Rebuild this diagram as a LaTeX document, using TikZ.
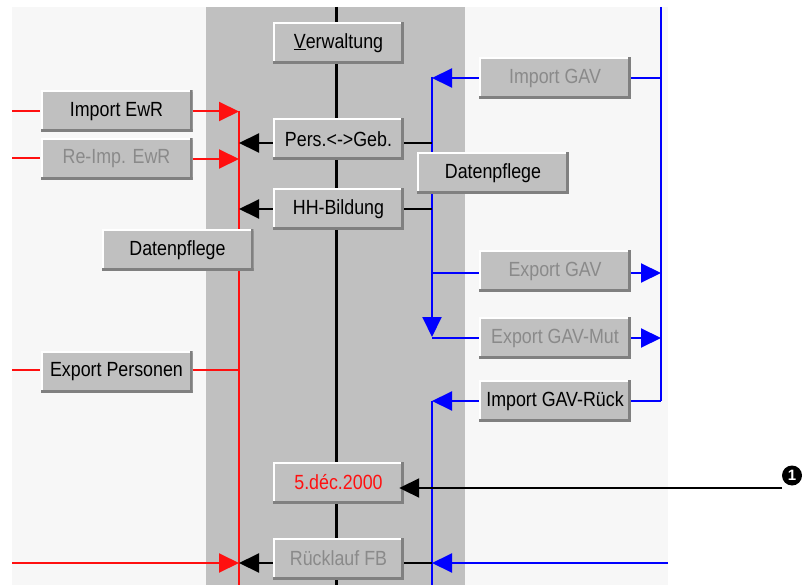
\documentclass[tikz,border=0pt]{standalone}
\usepackage{fontspec}
\setmainfont{Liberation Sans}
\newfontfamily\btnfamily[FakeStretch=0.87]{Liberation Sans}
\usetikzlibrary{arrows.meta}
\definecolor{bgpale}{HTML}{F7F7F7}
\definecolor{btngray}{HTML}{C0C0C0}
\definecolor{shadowgray}{HTML}{808080}
\definecolor{dimtext}{HTML}{8A8A8A}
\definecolor{lred}{HTML}{FF1010}
\definecolor{lblue}{HTML}{0000FF}
\newcommand\btnfont{\btnfamily\fontsize{20.5}{22}\selectfont}
\tikzset{
  >={Triangle[length=20pt,width=19pt]},
  btn/.style={fill=btngray, minimum width=152pt, minimum height=42pt, inner sep=0pt, font=\btnfont,
    path picture={
      \fill[white] (path picture bounding box.north west) rectangle ([yshift=-2pt]path picture bounding box.north east);
      \fill[white] (path picture bounding box.north west) rectangle ([xshift=2pt]path picture bounding box.south west);
      \fill[shadowgray] (path picture bounding box.south west) rectangle ([yshift=3pt]path picture bounding box.south east);
      \fill[shadowgray] ([xshift=-3pt]path picture bounding box.north east) rectangle (path picture bounding box.south east);
    }},
  cbtn/.style={btn, minimum width=131pt},
  dim/.style={text=dimtext},
  redln/.style={draw=lred, line width=2pt},
  blueln/.style={draw=lblue, line width=2pt},
  blkln/.style={draw=black, line width=2pt},
}
\begin{document}
\begin{tikzpicture}[x=1pt,y=-1pt]
\useasboundingbox (0,0) rectangle (802,585);
\fill[white] (0,0) rectangle (802,585);
\fill[bgpale] (12,7) rectangle (668,585);
\fill[btngray] (206,7) rectangle (465,585);

% bus coordinates
\coordinate (ctop) at (336,7);
\coordinate (cbot) at (336,585);
\coordinate (rtop) at (239,111);
\coordinate (rbot) at (239,585);
\coordinate (b1top) at (432,77);
\coordinate (b1mid) at (432,337);
\coordinate (b2top) at (432,401);
\coordinate (b2bot) at (432,585);
\coordinate (rbtop) at (661,7);
\coordinate (rbbot) at (661,401);
\coordinate (l1) at (12,111);
\coordinate (l2) at (12,158);
\coordinate (l3) at (12,370);
\coordinate (l4) at (12,563);
\coordinate (br) at (668,563);
\coordinate (c1) at (782,488);

% vertical lines
\draw[black, line width=3pt] (ctop) -- (cbot);
\draw[redln] (rtop) -- (rbot);
\draw[blueln,->] (b1top) -- (b1mid);
\draw[blueln] (b2top) -- (b2bot);
\draw[blueln] (rbtop) -- (rbbot);

% central buttons
\node[cbtn] (ver) at (338.5,43) {\underline{V}erwaltung};
\node[cbtn] (pg) at (338.5,139) {Pers.<->Geb.};
\node[cbtn] (hh) at (338.5,209) {HH-Bildung};
\node[cbtn, text=lred] (dec) at (338.5,482.5) {5.déc.2000};
\node[cbtn, dim] (rl) at (338.5,558.5) {Rücklauf FB};

% left buttons
\node[btn] (ie) at (116.5,111.5) {Import EwR};
\node[btn, dim] (re) at (116.5,159) {Re-Imp. EwR};
\node[btn] (dpl) at (177.5,250) {Datenpflege};
\node[btn] (ep) at (116.5,372) {Export Personen};

% right buttons
\node[btn, dim] (ig) at (555,78) {Import GAV};
\node[btn] (dpr) at (493,173.5) {Datenpflege};
\node[btn, dim] (eg) at (555,271) {Export GAV};
\node[btn, dim] (egm) at (555,338) {Export GAV-Mut};
\node[btn] (igr) at (555,401) {Import GAV-Rück};

% red connectors
\draw[redln] (l1) -- (l1 -| ie.west);
\draw[redln,->,lred] (ie.east) -- (ie.east -| rtop);
\draw[redln] (l2) -- (l2 -| re.west);
\draw[redln,->,lred] (re.east) -- (re.east -| rtop);
\draw[redln] (l3) -- (l3 -| ep.west);
\draw[redln] (l3 -| ep.east) -- (l3 -| rtop);
\draw[redln,->,lred] (l4) -- (l4 -| rtop);

% black connectors
\draw[blkln,->] ([yshift=-4pt]pg.west) -- ([yshift=-4pt]pg.west -| rtop);
\draw[blkln] ([yshift=-4pt]pg.east) -- ([yshift=-4pt]pg.east -| b1top);
\draw[blkln,->] (hh.west) -- (hh.west -| rtop);
\draw[blkln] (hh.east) -- (hh.east -| b1top);
\draw[blkln,->] ([yshift=-4.5pt]rl.west) -- ([yshift=-4.5pt]rl.west -| rtop);
\draw[blkln] ([yshift=-4.5pt]rl.east) -- ([yshift=-4.5pt]rl.east -| b2top);
\draw[blueln,->,lblue] (br) -- (br -| b2top);

% blue connectors
\draw[blueln,->,lblue] (ig.west) -- (ig.west -| b1top);
\draw[blueln] (ig.east) -- (ig.east -| rbtop);
\draw[blueln] ([yshift=-2pt]eg.west) -- ([yshift=-2pt]eg.west -| b1top);
\draw[blueln,->,lblue] ([yshift=-2pt]eg.east) -- ([yshift=-2pt]eg.east -| rbtop);
\draw[blueln] (egm.west) -- (egm.west -| b1mid);
\draw[blueln,->,lblue] (egm.east) -- (egm.east -| rbtop);
\draw[blueln,->,lblue] (igr.west) -- (igr.west -| b2top);
\draw[blueln] (igr.east) -- (igr.east -| rbbot);

% callout
\node[circle, fill=black, text=white, minimum size=20pt, inner sep=0pt,
      font=\bfseries\fontsize{15}{15}\selectfont] (m1) at (792,475.5) {1};
\draw[blkln,->] (c1) -- ([xshift=-5pt,yshift=-5.5pt]dec.east);
\end{tikzpicture}
\end{document}
